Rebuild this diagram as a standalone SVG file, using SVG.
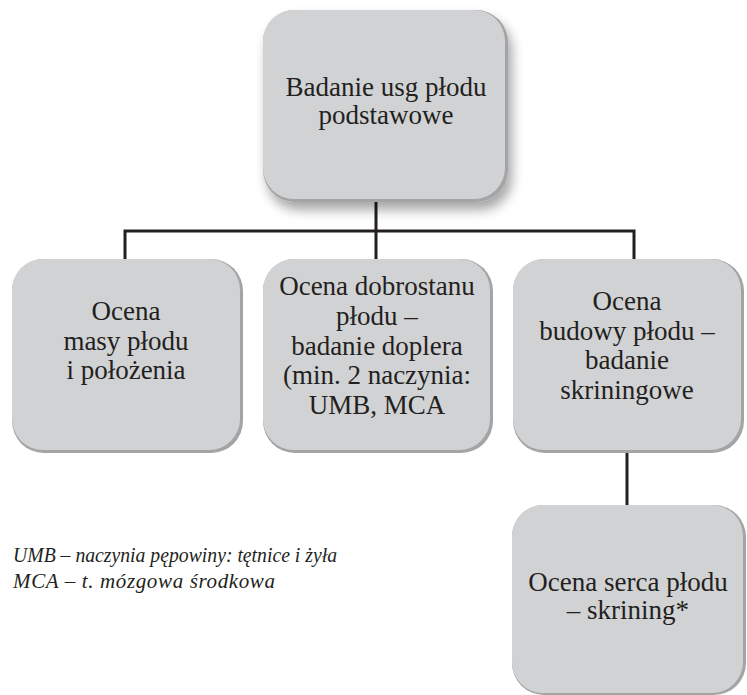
<svg xmlns="http://www.w3.org/2000/svg" width="747" height="695" viewBox="0 0 747 695">
<defs>
<filter id="soft" x="-20%" y="-20%" width="140%" height="140%">
<feDropShadow dx="4" dy="8" stdDeviation="6" flood-color="#000" flood-opacity="0.35"/>
</filter>
</defs>
<style>
.edge{fill:#a3a4a6}
.box{fill:#d1d2d4}
.t{font-family:'Liberation Serif','Times New Roman',serif;font-size:27px;fill:#231f20;text-anchor:middle}
.n{font-family:'Liberation Serif','Times New Roman',serif;font-size:21px;font-style:italic;fill:#231f20}
.c{stroke:#231f20;stroke-width:3;fill:none}
</style>
<rect width="747" height="695" fill="#ffffff"/>
<g id="connectors">
<path class="c" d="M376 200 V231 M125 259 V231 H634 V259 M376 231 V259"/>
<path class="c" d="M627 451 V505"/>
</g>
<g id="n0">
<rect x="263" y="10" width="245" height="192" rx="32" class="edge" filter="url(#soft)"/>
<rect x="263" y="10" width="242" height="189" rx="31" class="box"/>
<text class="t" x="386" y="96">Badanie usg płodu</text>
<text class="t" x="386" y="124">podstawowe</text>
</g>
<g id="n1">
<rect x="12" y="259" width="231" height="194" rx="32" class="edge"/>
<rect x="12" y="259" width="228" height="191" rx="31" class="box"/>
<text class="t" x="126" y="320">Ocena</text>
<text class="t" x="126" y="350">masy płodu</text>
<text class="t" x="126" y="379">i położenia</text>
</g>
<g id="n2">
<rect x="263" y="259" width="230" height="194" rx="32" class="edge"/>
<rect x="263" y="259" width="227" height="191" rx="31" class="box"/>
<text class="t" x="377" y="295">Ocena dobrostanu</text>
<text class="t" x="377" y="325">płodu –</text>
<text class="t" x="377" y="355">badanie doplera</text>
<text class="t" x="377" y="384">(min. 2 naczynia:</text>
<text class="t" x="377" y="414">UMB, MCA</text>
</g>
<g id="n3">
<rect x="513" y="259" width="231" height="194" rx="32" class="edge"/>
<rect x="513" y="259" width="228" height="191" rx="31" class="box"/>
<text class="t" x="627" y="310">Ocena</text>
<text class="t" x="627" y="340">budowy płodu –</text>
<text class="t" x="627" y="369">badanie</text>
<text class="t" x="627" y="399">skriningowe</text>
</g>
<g id="n4">
<rect x="512" y="505" width="234" height="190" rx="32" class="edge"/>
<rect x="512" y="505" width="231" height="188" rx="31" class="box"/>
<text class="t" x="628" y="591">Ocena serca płodu</text>
<text class="t" x="628" y="619">– skrining*</text>
</g>
<g id="notes">
<text class="n" x="13" y="562" textLength="324" lengthAdjust="spacingAndGlyphs">UMB – naczynia pępowiny: tętnice i żyła</text>
<text class="n" x="13" y="588" textLength="262" lengthAdjust="spacing">MCA – t. mózgowa środkowa</text>
</g>
</svg>
